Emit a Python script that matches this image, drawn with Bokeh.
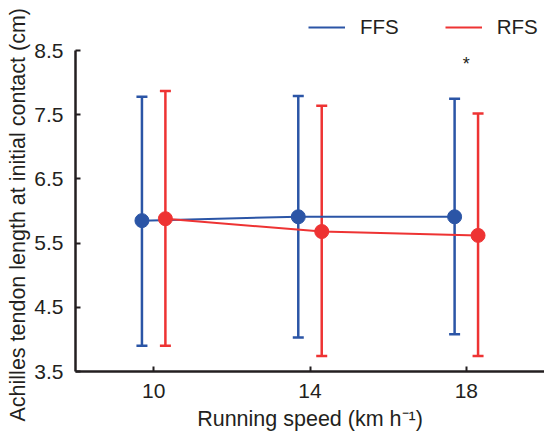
from bokeh.plotting import figure
from bokeh.models import (ColumnDataSource, Whisker, TeeHead, FixedTicker, Legend,
                          LegendItem, Range1d, Title)
from bokeh.core.properties import value
from bokeh.embed import file_html
from bokeh.resources import INLINE

# ---- data ----
speeds = [10, 14, 18]
x_ticks = [10, 14, 18]
y_ticks = [3.5, 4.5, 5.5, 6.5, 7.5, 8.5]

ffs_mean = [5.85, 5.91, 5.91]
ffs_upper = [7.78, 7.79, 7.75]
ffs_lower = [3.90, 4.03, 4.08]

rfs_mean = [5.88, 5.68, 5.62]
rfs_upper = [7.87, 7.64, 7.52]
rfs_lower = [3.90, 3.74, 3.74]

sig_speed = [18]
sig_y = [8.29]
sig_mark = ["*"]

# ---- style ----
BLUE = "#2b55a6"
RED = "#ee3333"
AXIS = "#231f20"
FONT = "Liberation Sans"
dodge = 0.3

p = figure(width=544, height=438, output_backend="svg", toolbar_location=None,
           x_range=Range1d(8, 20), y_range=Range1d(3.5, 9.279),
           min_border_left=75, min_border_right=0, min_border_top=0,
           min_border_bottom=67)
p.outline_line_color = None
p.grid.visible = False
p.background_fill_color = "white"
p.border_fill_color = "white"

def series(means, upper, lower, offset, color):
    xs = [s + offset for s in speeds]
    src = ColumnDataSource(dict(x=xs, y=means, upper=upper, lower=lower))
    w = Whisker(base="x", upper="upper", lower="lower", source=src,
                dimension="height", line_color=color, line_width=2.5,
                upper_head=TeeHead(size=11, line_color=color, line_width=2.5),
                lower_head=TeeHead(size=11, line_color=color, line_width=2.5))
    p.add_layout(w)
    ln = p.line("x", "y", source=src, line_color=color, line_width=2)
    p.scatter("x", "y", source=src, size=14, fill_color=color, line_color=color)
    return ln

l_ffs = series(ffs_mean, ffs_upper, ffs_lower, -dodge, BLUE)
l_rfs = series(rfs_mean, rfs_upper, rfs_lower, dodge, RED)

p.text(x=sig_speed, y=sig_y, text=sig_mark, text_align="center",
       text_baseline="middle", text_font=value(FONT), text_font_size="18px",
       text_color=AXIS)

# axes
for ax in (p.xaxis[0], p.yaxis[0]):
    ax.axis_line_color = AXIS
    ax.axis_line_width = 2.5
    ax.major_tick_line_color = AXIS
    ax.major_tick_line_width = 2
    ax.major_tick_in = 5
    ax.major_tick_out = 0
    ax.minor_tick_line_color = None
    ax.major_label_text_font = FONT
    ax.major_label_text_font_size = "21px"
    ax.major_label_text_color = AXIS
    ax.axis_label_text_font = FONT
    ax.axis_label_text_font_size = "21.5px"
    ax.axis_label_text_font_style = "normal"
    ax.axis_label_text_color = AXIS

p.xaxis.ticker = FixedTicker(ticks=x_ticks)
p.yaxis.ticker = FixedTicker(ticks=y_ticks)
p.yaxis.bounds = (y_ticks[0], y_ticks[-1])
p.yaxis.major_label_overrides = {t: f"{t:.1f}" for t in y_ticks}
p.xaxis.axis_label = "Running speed (km h\u207b\u00b9)"
p.xaxis.major_label_standoff = 12
p.yaxis.major_label_standoff = 12
p.xaxis.axis_label_standoff = 6

ytitle = Title(text="Achilles tendon length at initial contact (cm)",
               align="left", offset=-50, vertical_align="middle", standoff=2,
               text_font=FONT, text_font_size="21.5px", text_font_style="normal",
               text_color=AXIS)
p.add_layout(ytitle, "left")

legend = Legend(items=[LegendItem(label="FFS", renderers=[l_ffs]),
                       LegendItem(label="RFS", renderers=[l_rfs])],
                location=(233, 332), orientation="horizontal",
                glyph_width=37, glyph_height=20, label_standoff=15, spacing=46,
                padding=0, margin=0, border_line_color=None,
                background_fill_alpha=0, label_text_font=FONT,
                label_text_font_size="20.5px", label_text_color=AXIS)
p.add_layout(legend)

open("out.html", "w").write(file_html(p, INLINE))
